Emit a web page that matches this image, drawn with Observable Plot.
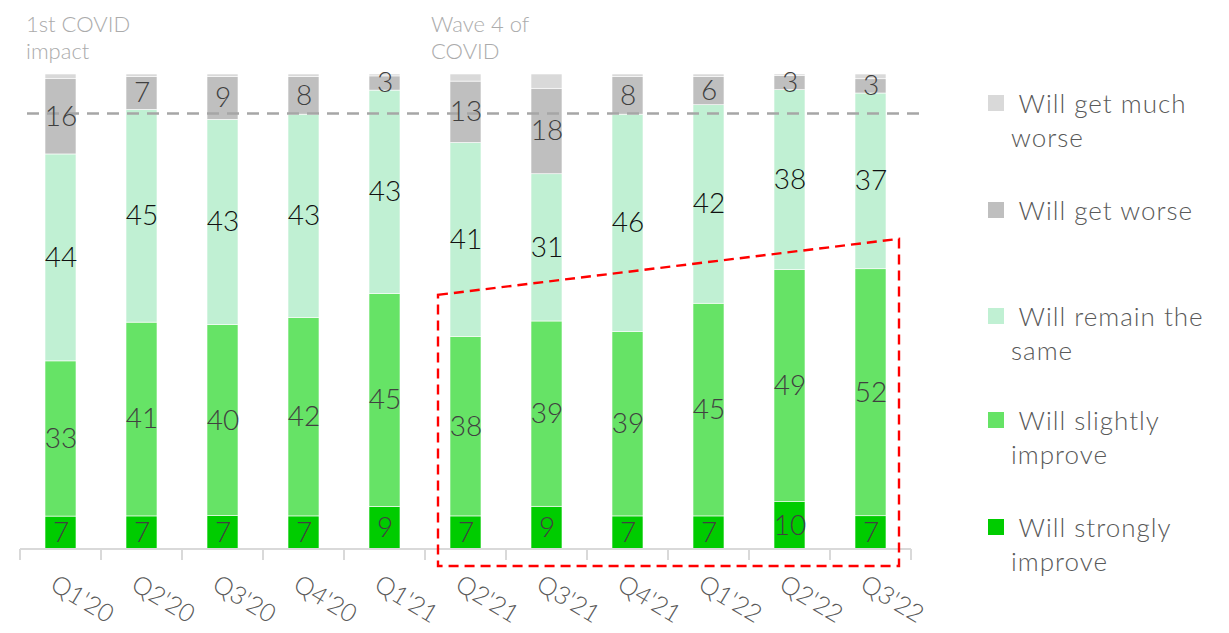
<!DOCTYPE html>
<html><head><meta charset="utf-8">
<script src="https://cdn.jsdelivr.net/npm/d3@7"></script>
<script src="https://cdn.jsdelivr.net/npm/@observablehq/plot@0.6"></script>
<style>
html,body{margin:0;padding:0;background:#fff;}
#wrap{position:relative;width:1229px;height:633px;overflow:hidden;font-family:Lato,"Open Sans",sans-serif;}
#chart{position:absolute;left:0;top:0;}
#legend{position:absolute;left:988px;top:0;}
.item{position:absolute;left:0;width:240px;}
.sw{position:absolute;left:0;top:0;width:16px;height:16px;}
.lab{position:absolute;left:23px;top:-17px;font-size:26px;line-height:34px;color:#595959;letter-spacing:1px;white-space:pre;font-weight:300;}
</style></head>
<body><div id="wrap"><div id="chart"></div><div id="legend"></div></div>
<script>
// ---- data ----
const categories = ["Q1'20","Q2'20","Q3'20","Q4'20","Q1'21","Q2'21","Q3'21","Q4'21","Q1'22","Q2'22","Q3'22"];
const seriesNames = ["Will strongly improve","Will slightly improve","Will remain the same","Will get worse","Will get much worse"];
const strongly  = [7,7,7,7,9,7,9,7,7,10,7];
const slightly  = [33,41,40,42,45,38,39,39,45,49,52];
const same      = [44,45,43,43,43,41,31,46,42,38,37];
const worse     = [16,7,9,8,3,13,18,8,6,3,3];
const muchWorse = [1,0.5,0.5,0.5,0.4,1.5,3,0.5,0.5,0.3,1];
const colors = ["#00cc00","#66e366","#c0f0d3","#bfbfbf","#d9d9d9"];
const legendOrder = ["Will get much worse","Will get worse","Will remain the same","Will slightly improve","Will strongly improve"];
const legendText = [" Will get much\nworse"," Will get worse"," Will remain the\nsame"," Will slightly\nimprove"," Will strongly\nimprove"];
const annotations = [{quarter:"Q1'20", label:"1st COVID\nimpact"},{quarter:"Q2'21", label:"Wave 4 of\nCOVID"}];
const referenceLinePct = 91.8;
const highlight = {from:"Q2'21", to:"Q3'22", startPct:53.5, endPct:65.3};

// ---- build table ----
const seriesValues = [strongly, slightly, same, worse, muchWorse];
const rows = [];
categories.forEach((c,i)=>seriesNames.forEach((s,j)=>rows.push({quarter:c, series:s, value:seriesValues[j][i]})));

function axisAndBox(index, scales) {
  const x = scales.x, y = scales.y;
  const bw = x.bandwidth();
  const step = x(categories[1]) - x(categories[0]);
  const gap = (step - bw) / 2;
  const g = d3.create("svg:g");
  const y0 = y(0);
  const r0 = x(categories[0]) - gap;
  g.append("line").attr("x1", r0).attr("x2", r0 + step*categories.length)
    .attr("y1", y0).attr("y2", y0).attr("stroke", "#d9d9d9").attr("stroke-width", 2);
  for (let i = 0; i <= categories.length; i++) {
    const xx = r0 + i*step;
    g.append("line").attr("x1", xx).attr("x2", xx).attr("y1", y0).attr("y2", y0 + 11)
      .attr("stroke", "#d9d9d9").attr("stroke-width", 2);
  }
  const left = x(highlight.from) - 12, right = x(highlight.to) + bw + 13, bottom = y0 + 17;
  g.append("path")
    .attr("d", `M${left},${y(highlight.startPct/100)}L${right},${y(highlight.endPct/100)}L${right},${bottom}L${left},${bottom}Z`)
    .attr("fill", "none").attr("stroke", "#ff0000").attr("stroke-width", 2.4).attr("stroke-dasharray", "10,6");
  return g.node();
}

const muchWorseName = "Will get much worse";
const plot = Plot.plot({
  width: 960, height: 633,
  marginLeft: 20, marginRight: 49, marginTop: 74, marginBottom: 84,
  style: {fontFamily: "Lato, 'Open Sans', sans-serif", background: "transparent", overflow: "visible"},
  x: {domain: categories, paddingInner: 0.62, paddingOuter: 0.31, axis: null},
  y: {domain: [0, 1], axis: null},
  color: {domain: seriesNames, range: colors},
  marks: [
    Plot.barY(rows, Plot.stackY({x: "quarter", y: "value", fill: "series", order: seriesNames, offset: "normalize", stroke: "white", strokeWidth: 0.6})),
    axisAndBox,
    Plot.ruleY([referenceLinePct], {y: d => d/100, stroke: "#a6a6a6", strokeWidth: 2.5, strokeDasharray: "12,8", insetLeft: 7, insetRight: -16}),
    Plot.text(rows, Plot.stackY({x: "quarter", y: "value", z: "series", order: seriesNames, offset: "normalize",
      text: d => d.series === muchWorseName ? "" : String(d.value),
      fill: d => d.series === "Will remain the same" ? "#111" : "#404040",
      fontSize: 28, fontWeight: 300})),
    Plot.text(categories, {x: d => d, text: d => d, frameAnchor: "bottom", lineAnchor: "top", textAnchor: "start",
      rotate: 31, dx: -3, dy: 24, fontSize: 25, fill: "#595959", fontWeight: 300}),
    Plot.text(annotations, {x: "quarter", text: "label", frameAnchor: "top", lineAnchor: "top", textAnchor: "start",
      dx: -35, dy: -61, fontSize: 22, lineHeight: 1.2, fill: "#ababab", fontWeight: 300})
  ]
});
document.getElementById("chart").appendChild(plot);

// legend
const legendCenters = [103, 210, 316, 420, 527];
const legend = document.getElementById("legend");
legendOrder.forEach((s, i) => {
  const item = document.createElement("div");
  item.className = "item";
  item.style.top = (legendCenters[i] - 8) + "px";
  const sw = document.createElement("div");
  sw.className = "sw";
  sw.style.background = colors[seriesNames.indexOf(s)];
  const lab = document.createElement("div");
  lab.className = "lab";
  lab.style.top = "-9px";
  lab.textContent = legendText[i];
  item.appendChild(sw); item.appendChild(lab);
  legend.appendChild(item);
});
</script>
</body></html>
